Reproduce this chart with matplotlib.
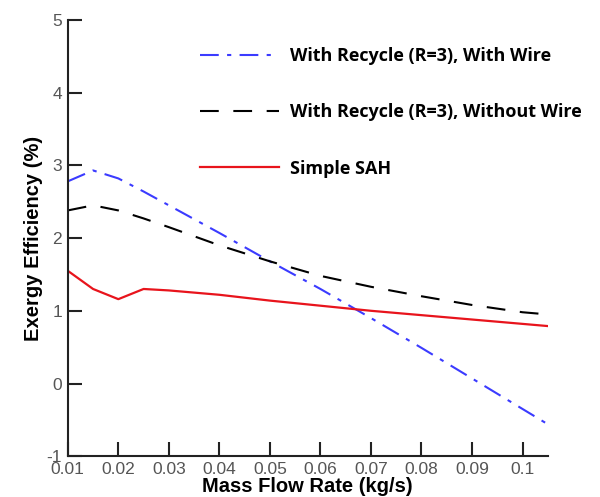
import matplotlib.pyplot as plt

# mass flow rate (kg/s)
mdot = [0.01, 0.015, 0.02, 0.025, 0.03, 0.04, 0.05, 0.06, 0.07, 0.08, 0.09, 0.1, 0.105]

# exergy efficiency (%)
with_wire = [2.78, 2.93, 2.82, 2.64, 2.45, 2.07, 1.68, 1.30, 0.90, 0.49, 0.07, -0.35, -0.56]
without_wire = [2.38, 2.45, 2.38, 2.27, 2.15, 1.90, 1.68, 1.48, 1.33, 1.20, 1.08, 0.98, 0.95]
simple_sah = [1.55, 1.30, 1.16, 1.30, 1.28, 1.22, 1.14, 1.07, 1.00, 0.94, 0.88, 0.82, 0.79]

labels = ["With Recycle (R=3), With Wire",
          "With Recycle (R=3), Without Wire",
          "Simple SAH"]

plt.rcParams['font.family'] = ['Liberation Sans', 'DejaVu Sans']
plt.rcParams['axes.unicode_minus'] = False

fig = plt.figure(figsize=(6, 4.97), dpi=100)
ax = fig.add_axes([0.113, 0.082, 0.8, 0.878])

ax.plot(mdot, with_wire, color='#3b3bff', lw=1.5, dashes=(9, 4, 2, 4), label=labels[0])
ax.plot(mdot, without_wire, color='black', lw=1.5, dashes=(9, 7), label=labels[1])
ax.plot(mdot, simple_sah, color='#e8141c', lw=1.6, label=labels[2])

ax.set_xlim(0.01, 0.105)
ax.set_ylim(-1, 5)
ax.set_xticks([0.01, 0.02, 0.03, 0.04, 0.05, 0.06, 0.07, 0.08, 0.09, 0.1])
ax.set_xticklabels(['0.01', '0.02', '0.03', '0.04', '0.05', '0.06', '0.07', '0.08', '0.09', '0.1'])
ax.set_yticks([-1, 0, 1, 2, 3, 4, 5])

for s in ['top', 'right']:
    ax.spines[s].set_visible(False)
for s in ['left', 'bottom']:
    ax.spines[s].set_linewidth(1.5)
    ax.spines[s].set_color('#222222')

ax.tick_params(direction='in', length=10, width=1.5, color='#222222',
               labelsize=12.5, labelcolor='#555555', pad=4)

ax.set_xlabel('Mass Flow Rate (kg/s)', fontsize=14.5, fontweight='bold', labelpad=0)
ax.set_ylabel('Exergy Efficiency (%)', fontsize=14.5, fontweight='bold', labelpad=3)

leg = ax.legend(loc='upper left', bbox_to_anchor=(0.333, 0.905), bbox_transform=fig.transFigure,
                frameon=False, borderpad=0, borderaxespad=0,
                handlelength=4.4, labelspacing=2.12, handletextpad=0.6,
                prop={'family': 'Open Sans', 'weight': 'bold', 'size': 13})

fig.savefig('out.png')
